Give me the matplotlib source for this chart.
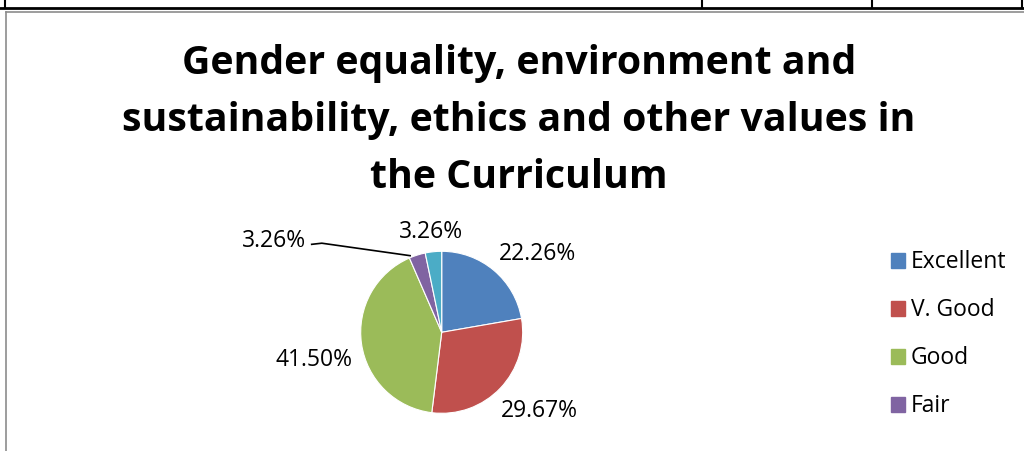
import matplotlib
matplotlib.use("Agg")
import matplotlib.pyplot as plt
from matplotlib.lines import Line2D
from matplotlib.patches import Patch

plt.rcParams["font.family"] = ["Open Sans", "DejaVu Sans"]

# data
categories = ["Excellent", "V. Good", "Good", "Fair", "Other"]
shares = [22.26, 29.67, 41.50, 3.26, 3.26]
colors = ["#4F81BD", "#C0504D", "#9BBB59", "#8064A2", "#4BACC6"]
legend_items = categories[:4]

# label positions (pie data units, radius 1)
label_pos = [(1.18, 0.97), (1.21, -0.97), (-1.58, -0.34), (-2.07, 1.13), (-0.13, 1.24)]

W, H = 1024, 451
fig = plt.figure(figsize=(W / 100, H / 100), dpi=100)


# page border remnants (table row at top, frame of the chart)
for xs, ys, c, lw in [
    ([0, 1024], [8, 8], "black", 2.0),
    ([5, 5], [0, 8], "black", 1.5),
    ([702, 702], [0, 8], "black", 1.5),
    ([872, 872], [0, 8], "black", 1.5),
    ([1022, 1022], [0, 8], "black", 1.5),
    ([6, 1024], [12, 12], "#8c8c8c", 1.2),
    ([6, 6], [12, 451], "#8c8c8c", 1.2),
]:
    fig.add_artist(Line2D([x / W for x in xs], [1 - y / H for y in ys],
                          color=c, lw=lw, transform=fig.transFigure))

fig.text(0.507, 1 - 120.5 / H,
         "Gender equality, environment and\nsustainability, ethics and other values in\nthe Curriculum",
         ha="center", va="center", fontsize=28.3, fontweight="bold", linespacing=1.6)

cx, cy, r = 441.7, 332.3, 81
ax = fig.add_axes([(cx - r) / W, (H - cy - r) / H, 2 * r / W, 2 * r / H])
ax.pie(shares, colors=colors, startangle=90, counterclock=False, radius=1,
       wedgeprops=dict(edgecolor="white", linewidth=0.8))
ax.set_xlim(-1, 1)
ax.set_ylim(-1, 1)
ax.set_aspect("equal")
ax.axis("off")

for v, (lx, ly) in zip(shares, label_pos):
    ax.text(lx, ly, f"{v:.2f}%", ha="center", va="center", fontsize=16.5,
            clip_on=False)

# leader line for the small "Fair" slice
ax.plot([-1.605, -1.48, -0.39], [1.086, 1.10, 0.946], color="black", lw=1.2,
        clip_on=False)

handles = [Patch(color=c) for c in colors[:4]]
fig.legend(handles, legend_items, loc="upper left", bbox_to_anchor=(882 / W, 1 - 241 / H),
           frameon=False, fontsize=16.5, handlelength=0.62, handleheight=0.62,
           handletextpad=0.25, labelspacing=1.05, borderaxespad=0)

fig.savefig("out.png", dpi=100)
